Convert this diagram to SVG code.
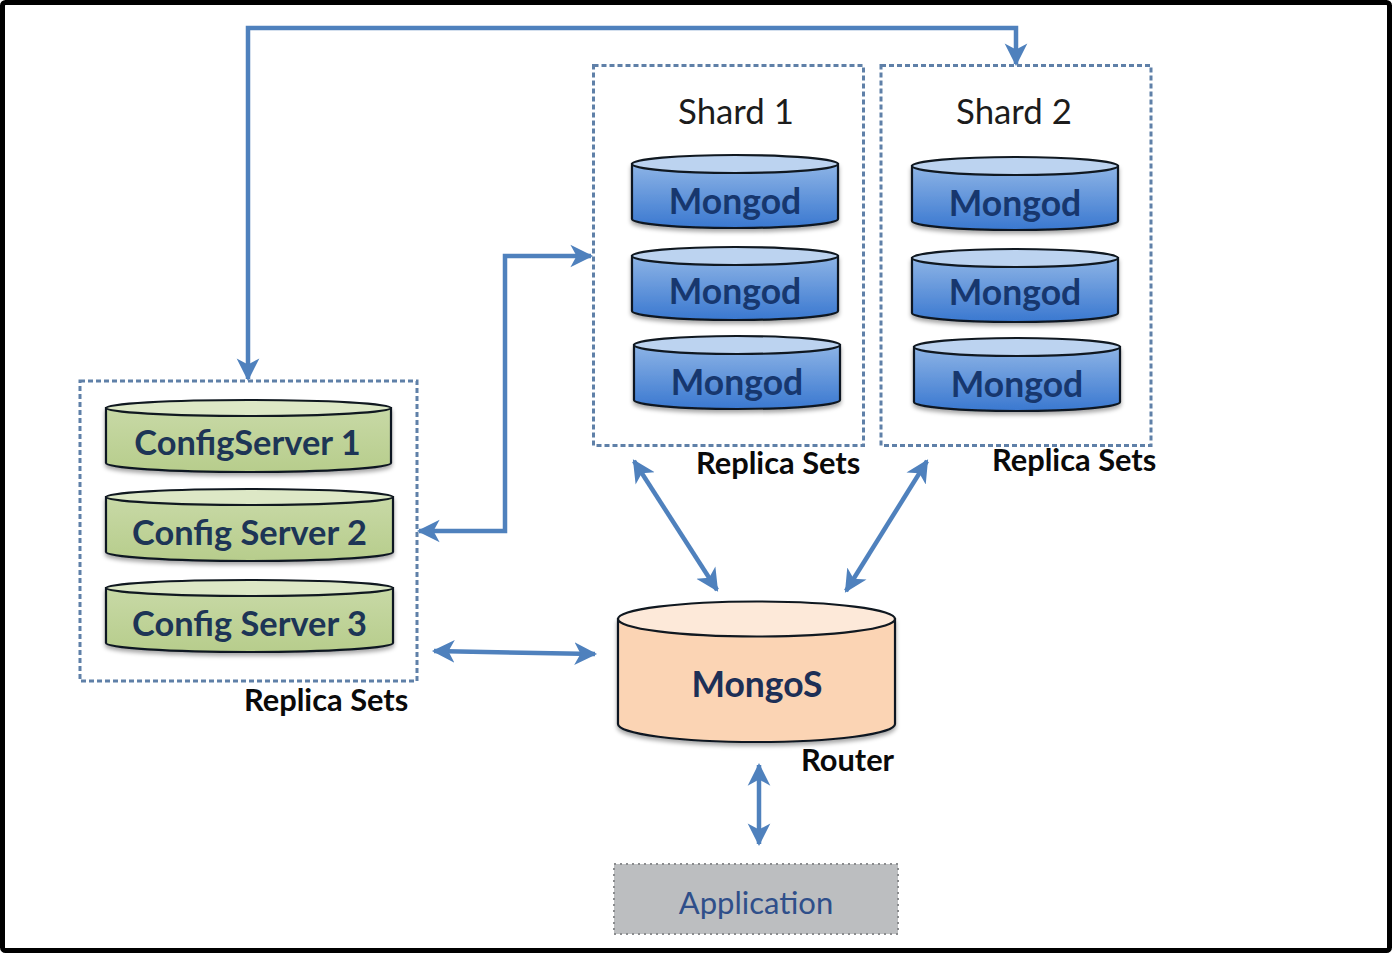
<svg xmlns="http://www.w3.org/2000/svg" width="1393" height="955" viewBox="0 0 1393 955">
<style>
text{font-family:Lato,"Open Sans","Liberation Sans",sans-serif;text-anchor:middle}
.t{font-size:35.500px;font-weight:700;fill:#17376e}
.g{font-size:34.400px;font-weight:700;fill:#1d3556}
.l{font-size:30.800px;font-weight:700;fill:#0a0a0a;text-anchor:start}
.s{font-size:34.800px;fill:#1c1c1c}
.box{fill:#fff;stroke:#5f80a8;stroke-width:3;stroke-dasharray:5 3}
.cb{stroke:#101820;stroke-width:2.2;filter:url(#sh)}
.ct{stroke:#101820;stroke-width:2.2}
.bl{fill:url(#blue)}.blt{fill:#bcd3f0}
.gr{fill:url(#green)}.grt{fill:#dde8c6}
.c{fill:none;stroke:#4f81bd;stroke-width:4.500;marker-start:url(#a);marker-end:url(#a)}
</style>
<defs>
<linearGradient id="blue" x1="0" y1="0" x2="0" y2="1"><stop offset="0" stop-color="#8db4e6"/><stop offset="1" stop-color="#3a78d0"/></linearGradient>
<linearGradient id="green" x1="0" y1="0" x2="0" y2="1"><stop offset="0" stop-color="#c8d9a6"/><stop offset="1" stop-color="#b7cd8c"/></linearGradient>
<filter id="sh" x="-5%" y="-5%" width="110%" height="120%"><feDropShadow dx="0" dy="3" stdDeviation="2" flood-color="#000" flood-opacity=".35"/></filter>
<marker id="a" viewBox="0 0 12 12" refX="10" refY="6" markerWidth="5.500" markerHeight="5.500" orient="auto-start-reverse" markerUnits="strokeWidth"><path d="M0 0.5 L11 6 L0 11.500 L3 6 Z" fill="#4f81bd"/></marker>
</defs>
<rect width="1393" height="955" fill="#fff"/>
<rect id="frame" x="2.500" y="2.500" width="1387" height="948" rx="3" fill="none" stroke="#000" stroke-width="5"/>
<g id="shard1"><rect class="box" x="593.500" y="65.500" width="270" height="380"/><text class="s" x="736" y="124">Shard 1</text></g>
<g id="shard2"><rect class="box" x="881" y="65.500" width="270" height="380"/><text class="s" x="1014" y="124">Shard 2</text></g>
<g id="config-set"><rect class="box" x="80" y="381" width="337" height="300"/></g>

<g id="m11"><path class="cb bl" d="M632 164V219A103 9 0 0 0 838 219V164Z"/><ellipse class="ct blt" cx="735" cy="164" rx="103" ry="9"/><text class="t" x="735" y="214">Mongod</text></g>
<g id="m12"><path class="cb bl" d="M632 256V311A103 9 0 0 0 838 311V256Z"/><ellipse class="ct blt" cx="735" cy="256" rx="103" ry="9"/><text class="t" x="735" y="304">Mongod</text></g>
<g id="m13"><path class="cb bl" d="M634 345V400A103 9 0 0 0 840 400V345Z"/><ellipse class="ct blt" cx="737" cy="345" rx="103" ry="9"/><text class="t" x="737" y="395">Mongod</text></g>
<g id="m21"><path class="cb bl" d="M912 166V221A103 9 0 0 0 1118 221V166Z"/><ellipse class="ct blt" cx="1015" cy="166" rx="103" ry="9"/><text class="t" x="1015" y="216">Mongod</text></g>
<g id="m22"><path class="cb bl" d="M912 258V313A103 9 0 0 0 1118 313V258Z"/><ellipse class="ct blt" cx="1015" cy="258" rx="103" ry="9"/><text class="t" x="1015" y="305">Mongod</text></g>
<g id="m23"><path class="cb bl" d="M914 347V402A103 9 0 0 0 1120 402V347Z"/><ellipse class="ct blt" cx="1017" cy="347" rx="103" ry="9"/><text class="t" x="1017" y="397">Mongod</text></g>

<g id="cfg1"><path class="cb gr" d="M106 408V463A142.500 9 0 0 0 391 463V408Z"/><ellipse class="ct grt" cx="248.500" cy="408" rx="142.500" ry="8"/><text class="g" x="247.500" y="455">ConfigServer 1</text></g>
<g id="cfg2"><path class="cb gr" d="M106 497V552A143.500 9 0 0 0 393 552V497Z"/><ellipse class="ct grt" cx="249.500" cy="497" rx="143.500" ry="8"/><text class="g" x="249.500" y="545">Config Server 2</text></g>
<g id="cfg3"><path class="cb gr" d="M106 588V643A143.500 9 0 0 0 393 643V588Z"/><ellipse class="ct grt" cx="249.500" cy="588" rx="143.500" ry="8"/><text class="g" x="249.500" y="636">Config Server 3</text></g>

<g id="mongos"><path class="cb" fill="#fbd4b4" d="M618 619V724A138.500 18 0 0 0 895 724V619Z"/><ellipse class="ct" fill="#fde9d9" cx="756.500" cy="619" rx="138.500" ry="17.500"/><text class="t" style="fill:#1d2f56" x="757" y="697">MongoS</text></g>
<g id="application"><rect x="614" y="864" width="284" height="70" fill="#bcbec0" stroke="#8a8c8e" stroke-width="2" stroke-dasharray="2 4"/><text x="756" y="914" font-size="31" fill="#2f4f8a">Application</text></g>

<g id="labels">
<text class="l" x="696" y="474">Replica Sets</text>
<text class="l" x="992" y="471">Replica Sets</text>
<text class="l" x="244" y="711">Replica Sets</text>
<text class="l" x="801" y="771">Router</text>
</g>

<g id="connectors">
<path class="c" d="M248 379V28H1016V64"/>
<path class="c" d="M591 256H505V531H419"/>
<path class="c" d="M634 461L717 590"/>
<path class="c" d="M927 461L846 591"/>
<path class="c" d="M434 651L595 654"/>
<path class="c" d="M759 765V844"/>
</g>
</svg>
